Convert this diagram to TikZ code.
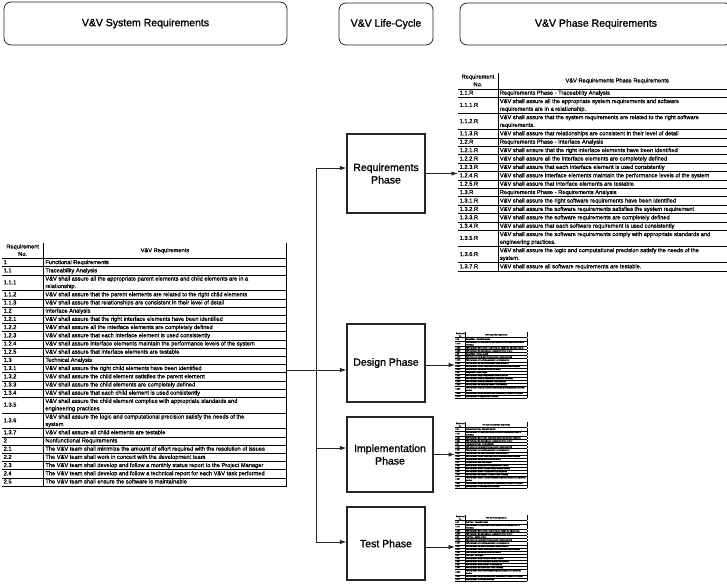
\documentclass[tikz,border=0pt]{standalone}
\usepackage{fontspec}
\setmainfont{Liberation Sans}
\newfontfamily\headfont[FakeBold=1.2]{Liberation Sans}
\newfontfamily\cellfont[FakeBold=1]{Liberation Sans}
\usepackage{array}
\usepackage{graphicx}
\usetikzlibrary{arrows.meta}

\newcolumntype{L}[1]{>{\raggedright\arraybackslash}m{#1}}
\newcolumntype{C}[1]{>{\centering\arraybackslash}m{#1}}

% System-level V&V requirements table
\newcommand\systable{%
\setlength\tabcolsep{1.5pt}\setlength\arrayrulewidth{0.7pt}%
\cellfont\fontsize{5.7}{7.5}\selectfont
\begin{tabular}{L{38pt}|L{239pt}|}
\multicolumn{1}{C{38pt}|}{Requirement No.} & \multicolumn{1}{C{239pt}|}{V\&V Requirements}\\\hline
1 & Functional Requirements\\\hline
1.1 & Traceability Analysis\\\hline
1.1.1 & V\&V shall assure all the appropriate parent elements and child elements are in a\newline relationship.\\\hline
1.1.2 & V\&V shall assure that the parent elements are related to the right child elements\\\hline
1.1.3 & V\&V shall assure that relationships are consistent in their level of detail\\\hline
1.2 & Interface Analysis\\\hline
1.2.1 & V\&V shall assure that the right interface elements have been identified\\\hline
1.2.2 & V\&V shall assure all the interface elements are completely defined\\\hline
1.2.3 & V\&V shall assure that each interface element is used consistently\\\hline
1.2.4 & V\&V shall assure interface elements maintain the performance levels of the system\\\hline
1.2.5 & V\&V shall assure that interface elements are testable\\\hline
1.3 & Technical Analysis\\\hline
1.3.1 & V\&V shall assure the right child elements have been identified\\\hline
1.3.2 & V\&V shall assure the child element satisfies the parent element\\\hline
1.3.3 & V\&V shall assure the child elements are completely defined\\\hline
1.3.4 & V\&V shall assure that each child element is used consistently\\\hline
1.3.5 & V\&V shall assure the child element complies with appropriate standards and\newline engineering practices\\\hline
1.3.6 & V\&V shall assure the logic and computational precision satisfy the needs of the\newline system\\\hline
1.3.7 & V\&V shall assure all child elements are testable\\\hline
2 & Nonfunctional Requirements\\\hline
2.1 & The V\&V team shall minimize the amount of effort required with the resolution of issues\\\hline
2.2 & The V\&V team shall work in concert with the development team\\\hline
2.3 & The V\&V team shall develop and follow a monthly status report to the Project Manager\\\hline
2.4 & The V\&V team shall develop and follow a technical report for each V\&V task performed\\\hline
2.5 & The V\&V team shall ensure the software is maintainable\\\hline
\end{tabular}}

% Requirements-phase table
\newcommand\reqtable{%
\setlength\tabcolsep{1.5pt}\setlength\arrayrulewidth{0.7pt}%
\cellfont\fontsize{5.7}{7.7}\selectfont
\begin{tabular}{L{36.5pt}|L{234.5pt}|}
\multicolumn{1}{C{36.5pt}|}{Requirement No.} & \multicolumn{1}{C{234.5pt}|}{V\&V Requirements Phase Requirements}\\\hline
1.1.R & Requirements Phase - Traceability Analysis\\\hline
1.1.1.R & V\&V shall assure all the appropriate system requirements and software\newline requirements are in a relationship.\\\hline
1.1.2.R & V\&V shall assure that the system requirements are related to the right software\newline requirements.\\\hline
1.1.3.R & V\&V shall assure that relationships are consistent in their level of detail\\\hline
1.2.R & Requirements Phase - Interface Analysis\\\hline
1.2.1.R & V\&V shall ensure that the right interface elements have been identified\\\hline
1.2.2.R & V\&V shall assure all the interface elements are completely defined\\\hline
1.2.3.R & V\&V shall assure that each interface element is used consistently\\\hline
1.2.4.R & V\&V shall assure interface elements maintain the performance levels of the system\\\hline
1.2.5.R & V\&V shall assure that interface elements are testable\\\hline
1.3.R & Requirements Phase - Requirements Analysis\\\hline
1.3.1.R & V\&V shall assure the right software requirements have been identified\\\hline
1.3.2.R & V\&V shall assure the software requirements satisfies the system requirement\\\hline
1.3.3.R & V\&V shall assure the software requirements are completely defined\\\hline
1.3.4.R & V\&V shall assure that each software requirement is used consistently\\\hline
1.3.5.R & V\&V shall assure the software requirements comply with appropriate standards and\newline engineering practices.\\\hline
1.3.6.R & V\&V shall assure the logic and computational precision satisfy the needs of the\newline system.\\\hline
1.3.7.R & V\&V shall assure all software requirements are testable.\\\hline
\end{tabular}}

% Phase table, set small beside the later phases
% #1 tag, #2 phase, #3 parent items, #4 child items, #5 one child item, #6 analysis
\newcommand\thumbtable[6]{%
\setlength\tabcolsep{1.5pt}\setlength\arrayrulewidth{1.2pt}%
\cellfont\fontsize{5.7}{7.7}\selectfont
\begin{tabular}{L{36.5pt}|L{234.5pt}|}
\multicolumn{1}{C{36.5pt}|}{Requirement No.} & \multicolumn{1}{C{234.5pt}|}{V\&V #2 Phase Requirements}\\\hline
1.1.#1 & #2 Phase - Traceability Analysis\\\hline
1.1.1.#1 & V\&V shall assure all the appropriate #3 and #4 are in a relationship.\\\hline
1.1.2.#1 & V\&V shall assure that the #3 are related to the right #4.\\\hline
1.1.3.#1 & V\&V shall assure that relationships are consistent in their level of detail\\\hline
1.2.#1 & #2 Phase - Interface Analysis\\\hline
1.2.1.#1 & V\&V shall ensure that the right interface elements have been identified\\\hline
1.2.2.#1 & V\&V shall assure all the interface elements are completely defined\\\hline
1.2.3.#1 & V\&V shall assure that each interface element is used consistently\\\hline
1.2.4.#1 & V\&V shall assure interface elements maintain the performance levels of the system\\\hline
1.2.5.#1 & V\&V shall assure that interface elements are testable\\\hline
1.3.#1 & #2 Phase - #6 Analysis\\\hline
1.3.1.#1 & V\&V shall assure the right #4 have been identified\\\hline
1.3.2.#1 & V\&V shall assure the #4 satisfy the #3\\\hline
1.3.3.#1 & V\&V shall assure the #4 are completely defined\\\hline
1.3.4.#1 & V\&V shall assure that each #5 is used consistently\\\hline
1.3.5.#1 & V\&V shall assure the #4 comply with appropriate standards and engineering practices.\\\hline
1.3.6.#1 & V\&V shall assure the logic and computational precision satisfy the needs of the system.\\\hline
1.3.7.#1 & V\&V shall assure all #4 are testable.\\\hline
\end{tabular}}

\begin{document}
\begin{tikzpicture}[x=1pt,y=-1pt,
  hdr/.style={draw=black!85, line width=0.8pt, rounded corners=7pt,
    font=\headfont\fontsize{10.5}{12}\selectfont, inner sep=0pt},
  phasebox/.style={draw=black!85, line width=1.1pt, align=center,
    font=\headfont\fontsize{10.5}{12.5}\selectfont, inner sep=0pt},
  conn/.style={line width=0.9pt, draw=black!85},
  arr/.style={conn, -{Latex[length=6.5pt,width=4.5pt]}},
  tab/.style={inner sep=0pt, anchor=north west}]
\clip (0,0) rectangle (727,585);

% column headings
\node[hdr, minimum width=283pt, minimum height=43pt] (sysreq) at (145.5,23.5) {V\&V System Requirements};
\node[hdr, minimum width=94pt, minimum height=42pt] (lifecycle) at (386,24) {V\&V Life-Cycle};
\node[hdr, minimum width=272pt, minimum height=42pt] (phasereq) at (596,24) {V\&V Phase Requirements};

% life-cycle phases
\node[phasebox, minimum width=78pt, minimum height=79pt] (reqph) at (386,173.5) {Requirements\\Phase};
\node[phasebox, minimum width=78pt, minimum height=78pt] (desph) at (386,363) {Design Phase};
\node[phasebox, minimum width=86pt, minimum height=75pt] (impph) at (390,454.5) {Implementation\\Phase};
\node[phasebox, minimum width=78pt, minimum height=73pt] (testph) at (386,543.5) {Test Phase};

% requirement tables
\node[tab] (systab) at (2,243) {\systable};
\node[tab] (reqtab) at (458,73) {\reqtable};
\node[tab] (destab) at (455,332) {\resizebox*{72pt}{66pt}{\thumbtable{D}{Design}{software requirements}{design elements}{design element}{Design}}};
\node[tab] (imptab) at (455,422) {\resizebox*{72pt}{66pt}{\thumbtable{I}{Implementation}{design elements}{code components}{code component}{Code}}};
\node[tab] (testtab) at (455,515) {\resizebox*{72pt}{66pt}{\thumbtable{T}{Test}{software requirements}{test cases}{test case}{Test}}};

% entry points on the phase boxes
\coordinate (reqin) at ([yshift=5.5pt]reqph.west);
\coordinate (desin) at ([yshift=-7pt]desph.west);
\coordinate (impin) at ([yshift=6.5pt]impph.west);
\coordinate (testin) at ([yshift=1.5pt]testph.west);

% distribution from the system requirements to each phase
\coordinate (jn) at (316,0);
\draw[conn] (jn |- reqin) -- (jn |- testin);
\draw[arr] (jn |- reqin) -- (reqin);
\draw[arr] (systab.east |- desin) -- (desin);
\draw[arr] (jn |- impin) -- (impin);
\draw[arr] (jn |- testin) -- (testin);

% each phase yields its own requirements
\draw[arr] (reqph.east) -- (reqph.east -| reqtab.west);
\draw[arr] ([yshift=-2pt]desph.east) -- ([yshift=-2pt]desph.east -| destab.west);
\draw[arr] (impph.east) -- (impph.east -| imptab.west);
\draw[arr] ([yshift=-3.5pt]testph.east) -- ([yshift=-3.5pt]testph.east -| testtab.west);
\end{tikzpicture}
\end{document}
